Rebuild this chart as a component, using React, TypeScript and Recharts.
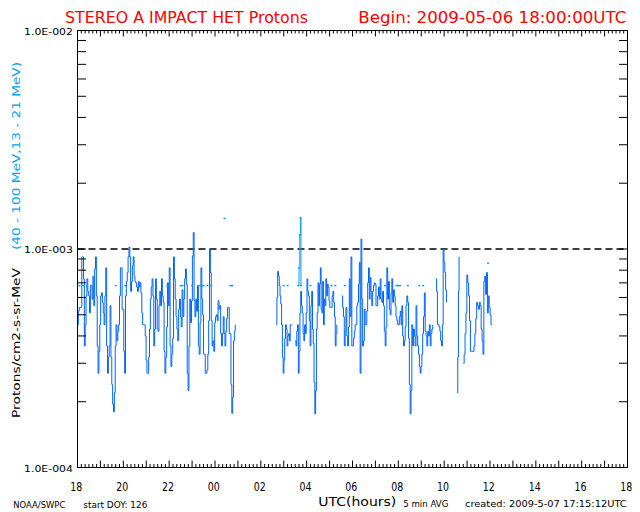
import React from 'react';
import { ComposedChart, Line, XAxis, YAxis, ReferenceLine } from 'recharts';

const TITLE = 'STEREO A IMPACT HET Protons';
const BEGIN = 'Begin: 2009-05-06 18:00:00UTC';
const Y_LABEL_UNITS = 'Protons/cm2-s-sr-MeV';
const Y_LABEL_BANDS = '(40 - 100 MeV,13 - 21 MeV)';
const FOOT_SOURCE = 'NOAA/SWPC';
const FOOT_DOY = 'start DOY: 126';
const X_TITLE = 'UTC(hours)';
const FOOT_AVG = '5 min AVG';
const FOOT_CREATED = 'created: 2009-5-07 17:15:12UTC';

// x axis: minutes after 2009-05-06 18:00 UTC
const X_DOMAIN = [0, 1440];
const X_LABELS = ['18', '20', '22', '00', '02', '04', '06', '08', '10', '12', '14', '16', '18'];
const X_LABEL_EVERY = 120;
const X_MAJOR_EVERY = 60;
const X_MINOR_EVERY = 10;

const Y_DOMAIN = [1e-4, 1e-2];
const Y_TICKS = [
  1e-4, 2e-4, 3e-4, 4e-4, 5e-4, 6e-4, 7e-4, 8e-4, 9e-4,
  1e-3, 2e-3, 3e-3, 4e-3, 5e-3, 6e-3, 7e-3, 8e-3, 9e-3, 1e-2,
];
const Y_MAJORS = [1e-4, 1e-3, 1e-2];
const Y_MAJOR_LABELS = ['1.0E-004', '1.0E-003', '1.0E-002'];
const THRESHOLD = 1e-3;

// 13 - 21 MeV channel, segment by segment
const LO_SEG1 = [
  4.5e-4, 5.2e-4, 5.4e-4, 5.4e-4, 5.4e-4, 9.2e-4, 9.2e-4, 7.3e-4, 3.6e-4, 4.5e-4,
  6.1e-4, 7.3e-4, 6.4e-4, 6.1e-4, 5.1e-4, 6.8e-4, 6.8e-4, 5.9e-4, 7.5e-4, 5.5e-4,
  8.1e-4, 9.2e-4, 6.1e-4, 3.6e-4, 2.7e-4, 3.4e-4, 4.5e-4, 6.1e-4, 6.3e-4, 5.7e-4,
  5.1e-4, 4.5e-4, 6.1e-4, 8.2e-4, 3.6e-4, 2.7e-4, 3.2e-4, 3.6e-4, 5.5e-4, 3.2e-4,
  2.4e-4, 1.95e-4, 1.8e-4, 2.2e-4, 3.6e-4, 4.5e-4, 3.8e-4, 4.2e-4, 4.5e-4, 6.1e-4,
  8.2e-4, 8.2e-4, 5.3e-4, 5.3e-4, 3.4e-4, 2.7e-4, 6.1e-4, 7.1e-4, 7.8e-4, 9.2e-4,
  1.02e-3, 9.2e-4, 6.4e-4, 7.1e-4, 8.4e-4, 9.2e-4, 7.5e-4, 7.1e-4, 7.0e-4, 6.7e-4,
  6.4e-4, 7.1e-4, 6.7e-4, 7.0e-4, 6.3e-4, 5.1e-4, 4.5e-4, 4.5e-4, 4.5e-4, 4.0e-4,
  3.1e-4, 2.7e-4, 2.7e-4, 3.2e-4, 4.3e-4, 5.9e-4, 6.7e-4, 7.3e-4, 6.1e-4, 3.6e-4,
  4.3e-4, 7.3e-4, 5.9e-4, 4.3e-4, 4.2e-4, 5.5e-4, 6.4e-4, 5.5e-4, 7.3e-4, 6.1e-4,
  5.7e-4, 3.4e-4, 2.7e-4, 3.2e-4, 4.4e-4, 7.0e-4, 5.5e-4, 8.2e-4, 3.6e-4, 2.9e-4,
  3.3e-4, 3.9e-4, 9.2e-4, 7.3e-4, 5.9e-4, 4.9e-4, 4.3e-4, 3.8e-4, 5.3e-4, 5.9e-4,
  4.9e-4, 4.4e-4, 6.5e-4, 4.9e-4, 5.9e-4, 7.3e-4, 8.1e-4, 6.9e-4, 2.7e-4, 2.25e-4,
  3.6e-4, 5.9e-4, 4.6e-4, 5.8e-4, 9.3e-4, 1.19e-3, 5.8e-4, 4.9e-4, 5.9e-4, 5.2e-4,
  6.8e-4, 3.6e-4, 3.3e-4, 4.6e-4, 8.2e-4, 5.9e-4, 5.0e-4, 3.3e-4, 3.3e-4, 2.7e-4,
  2.7e-4, 2.8e-4, 3.3e-4, 4.7e-4, 1.0e-3, 7.8e-4, 4.7e-4, 3.6e-4, 3.8e-4, 3.4e-4,
  4.6e-4, 4.9e-4, 5.0e-4, 4.7e-4, 5.8e-4, 5.3e-4, 5.5e-4, 4.1e-4, 3.6e-4, 4.1e-4,
  4.9e-4, 4.1e-4, 3.6e-4, 4.2e-4, 4.8e-4, 5.4e-4, 5.4e-4, 4.1e-4, 4.1e-4, 2.4e-4,
  1.77e-4, 2.1e-4, 3.8e-4, 4.2e-4, 4.5e-4,
];
const LO_SEG2 = [
  4.5e-4, 6.0e-4, 7.9e-4, 7.5e-4, 6.8e-4, 6.1e-4, 5.6e-4, 4.5e-4, 3.2e-4, 2.7e-4,
  3.1e-4, 3.9e-4, 4.5e-4, 4.3e-4, 3.6e-4, 4.0e-4, 4.1e-4, 3.8e-4, 4.5e-4, 4.5e-4, 4.5e-4,
];
const LO_SEG3 = [
  3.8e-4, 3.6e-4, 4.2e-4, 4.5e-4, 2.7e-4, 3.4e-4, 5.1e-4, 6.4e-4, 5.5e-4, 5.1e-4,
  4.1e-4, 3.8e-4, 4.5e-4, 4.1e-4, 5.1e-4, 7.3e-4, 6.4e-4, 6.1e-4, 4.7e-4, 3.6e-4,
  5.5e-4, 6.4e-4, 4.3e-4, 3.7e-4, 2.45e-4, 1.76e-4, 2.25e-4, 4.3e-4, 5.1e-4, 7.0e-4,
  5.5e-4, 6.9e-4, 8.2e-4, 5.3e-4, 5.1e-4, 7.1e-4, 4.5e-4, 5.9e-4, 5.5e-4, 7.3e-4,
  6.1e-4, 6.9e-4, 6.7e-4, 5.8e-4, 5.4e-4, 5.4e-4, 5.4e-4, 6.1e-4, 6.4e-4, 5.7e-4,
  4.9e-4, 3.6e-4, 4.1e-4, 4.5e-4,
];
const LO_SEG4 = [
  6.1e-4, 5.4e-4, 4.9e-4, 3.6e-4, 4.2e-4, 5.4e-4, 4.0e-4, 3.6e-4, 4.4e-4, 7.3e-4,
  4.9e-4, 9.2e-4, 3.6e-4, 3.6e-4, 3.9e-4, 4.2e-4, 4.5e-4, 4.5e-4, 5.5e-4, 5.7e-4,
  6.9e-4, 8.7e-4, 2.7e-4, 1.11e-3, 5.9e-4, 3.6e-4, 3.8e-4, 5.3e-4, 4.5e-4, 4.5e-4,
  5.2e-4, 7.0e-4, 8.2e-4, 5.9e-4, 7.4e-4, 6.4e-4, 5.5e-4, 6.4e-4, 6.8e-4, 7.0e-4,
  6.9e-4, 5.5e-4, 5.5e-4, 6.1e-4, 6.7e-4, 5.9e-4, 7.3e-4, 5.9e-4, 5.7e-4, 6.4e-4,
  5.5e-4, 4.2e-4, 3.6e-4, 4.4e-4, 8.2e-4, 5.9e-4, 7.1e-4, 5.3e-4, 5.0e-4, 6.3e-4,
  7.3e-4, 5.7e-4, 6.5e-4, 6.1e-4, 5.5e-4, 4.9e-4, 4.7e-4, 4.5e-4, 4.5e-4, 4.9e-4,
  5.2e-4, 4.5e-4, 5.5e-4, 4.0e-4, 3.6e-4, 3.8e-4, 4.4e-4, 5.5e-4, 6.1e-4, 5.7e-4,
  3.9e-4, 2.4e-4, 1.76e-4, 2.25e-4, 4.5e-4, 3.6e-4, 4.3e-4, 4.0e-4, 3.6e-4, 5.5e-4,
  4.0e-4, 3.6e-4, 3.3e-4, 2.9e-4, 2.7e-4, 2.9e-4, 3.3e-4, 4.1e-4, 4.9e-4, 6.3e-4,
  4.2e-4, 4.0e-4, 3.6e-4, 4.2e-4, 4.0e-4, 4.5e-4, 3.6e-4, 4.1e-4, 4.3e-4, 4.5e-4,
];
const LO_SEG5 = [
  7.3e-4, 6.4e-4, 4.5e-4, 4.5e-4, 4.4e-4, 4.2e-4, 3.8e-4, 3.6e-4, 4.5e-4, 1.0e-3,
  8.7e-4, 7.8e-4, 6.5e-4, 5.7e-4,
];
const LO_SEG6 = [2.2e-4, 3.2e-4, 6.4e-4, 9.2e-4];
const LO_SEG7 = [
  3.0e-4, 3.3e-4, 4.1e-4, 5.1e-4, 7.6e-4, 7.0e-4, 6.1e-4, 4.7e-4, 3.4e-4, 3.4e-4,
  3.4e-4, 3.4e-4, 3.6e-4, 4.1e-4, 4.8e-4, 5.7e-4, 5.5e-4, 5.3e-4, 5.7e-4, 5.5e-4,
  4.3e-4, 3.8e-4, 3.3e-4, 7.1e-4, 7.5e-4, 6.2e-4, 7.8e-4, 5.1e-4, 6.1e-4, 5.4e-4,
  5.0e-4, 4.5e-4, 4.5e-4,
];
// first and last minute of each run of 13 - 21 MeV data
const LO_SEG_STARTS = [0, 520, 570, 692, 938, 994, 1010];
const LO_SEG_ENDS = [413, 561, 679, 930, 966, 999, 1085];
const LO_SEGS = [LO_SEG1, LO_SEG2, LO_SEG3, LO_SEG4, LO_SEG5, LO_SEG6, LO_SEG7];

// 40 - 100 MeV channel (mostly isolated 5-minute points)
const HI_TIMES = [
  5, 15, 25, 40, 100, 125, 205, 235, 270, 275, 300, 320, 325, 330, 340, 350, 385, 400, 405,
  540, 550, 578, 580, 582, 584, 585, 610, 665, 675, 700, 805, 835, 840, 845, 865, 895, 905, 1075,
];
const HI_VALUES = [
  6.8e-4, 6.8e-4, 6.8e-4, 6.8e-4, 6.8e-4, 6.8e-4, 6.8e-4, 6.8e-4, 6.8e-4, 6.8e-4, 6.8e-4,
  6.8e-4, 6.8e-4, 6.8e-4, 6.8e-4, 6.8e-4, 1.38e-3, 6.8e-4, 6.8e-4,
  6.8e-4, 6.8e-4, 6.8e-4, 8.2e-4, 1.16e-3, 1.39e-3, 6.8e-4, 6.8e-4, 6.8e-4, 6.8e-4, 6.8e-4,
  6.8e-4, 6.8e-4, 6.8e-4, 6.8e-4, 6.8e-4, 6.8e-4, 6.8e-4, 8.6e-4,
];

const LO_COLOR = '#0064ff';
const HI_COLOR = '#00a0ff';
const FONT = '"DejaVu Sans", sans-serif';

const loData: { t: number; v: number | null }[] = [];
LO_SEGS.forEach((vals, s) => {
  const a = LO_SEG_STARTS[s];
  const b = LO_SEG_ENDS[s];
  vals.forEach((v, i) => {
    loData.push({ t: a + (i * (b - a)) / (vals.length - 1), v });
  });
  loData.push({ t: b + 0.5, v: null });
});

const hiData: { t: number; v: number | null }[] = [];
HI_TIMES.forEach((t, i) => {
  if (i > 0 && t - HI_TIMES[i - 1] > 5.5) hiData.push({ t: HI_TIMES[i - 1] + 0.5, v: null });
  hiData.push({ t, v: HI_VALUES[i] });
});

const X_TICKS: number[] = [];
for (let t = X_DOMAIN[0]; t <= X_DOMAIN[1]; t += X_MINOR_EVERY) X_TICKS.push(t);

const majorIndex = (v: number) => Y_MAJORS.findIndex((m) => Math.abs(m - v) < m * 1e-6);

const LeftTick = (props: any) => {
  const { x, y, payload } = props;
  const idx = majorIndex(payload.value);
  return (
    <g>
      <line x1={x} x2={x + 8.5} y1={y} y2={y} stroke="#000" strokeWidth={1} />
      {idx >= 0 && (
        <text x={x - 4.5} y={y + 4.3} textAnchor="end" fontSize={9.5} fontFamily={FONT} fill="#000"
          textLength={49} lengthAdjust="spacingAndGlyphs">
          {Y_MAJOR_LABELS[idx]}
        </text>
      )}
    </g>
  );
};

const RightTick = (props: any) => {
  const { x, y } = props;
  return <line x1={x} x2={x - 8.5} y1={y} y2={y} stroke="#000" strokeWidth={1} />;
};

const BottomTick = (props: any) => {
  const { x, y, payload } = props;
  const t = payload.value as number;
  const major = t % X_MAJOR_EVERY === 0;
  const labelled = t % X_LABEL_EVERY === 0;
  return (
    <g>
      <line x1={x} x2={x} y1={y} y2={y - (major ? 7 : 3.5)} stroke="#000" strokeWidth={1} />
      {labelled && (
        <text x={x - 1.2} y={y + 23.5} textAnchor="middle" fontSize={12.5} fontFamily={FONT} fill="#000"
          textLength={12} lengthAdjust="spacingAndGlyphs">
          {X_LABELS[t / X_LABEL_EVERY]}
        </text>
      )}
    </g>
  );
};

const TopTick = (props: any) => {
  const { x, y, payload } = props;
  const major = (payload.value as number) % X_MAJOR_EVERY === 0;
  return <line x1={x} x2={x} y1={y} y2={y + (major ? 6 : 3)} stroke="#000" strokeWidth={1} />;
};

const HiDot = (p: any) => {
  if (p.cx == null || p.cy == null || p.value == null) return <g key={`e${p.index}`} />;
  return <rect key={`d${p.index}`} x={p.cx - 1} y={p.cy - 0.75} width={2} height={1.5} fill={HI_COLOR} />;
};

export default function App() {
  return (
    <div style={{ position: 'absolute', left: 0, top: 0, width: 640, height: 512, background: '#fff' }}>
      <ComposedChart width={640} height={512} margin={{ top: 29.5, right: 11.5, bottom: 43.5, left: 76.5 }}>
        <XAxis xAxisId="b" orientation="bottom" type="number" dataKey="t" domain={X_DOMAIN} ticks={X_TICKS}
          interval={0} height={1} tickSize={0} tickMargin={0} tickLine={false} tick={<BottomTick />}
          axisLine={{ stroke: '#000', strokeWidth: 1 }} allowDataOverflow />
        <XAxis xAxisId="t" orientation="top" type="number" dataKey="t" domain={X_DOMAIN} ticks={X_TICKS}
          interval={0} height={1} tickSize={0} tickMargin={0} tickLine={false} tick={<TopTick />}
          axisLine={{ stroke: '#000', strokeWidth: 1 }} allowDataOverflow />
        <YAxis yAxisId="l" orientation="left" type="number" scale="log" domain={Y_DOMAIN} ticks={Y_TICKS}
          interval={0} width={1} tickSize={0} tickMargin={0} tickLine={false} tick={<LeftTick />}
          axisLine={{ stroke: '#000', strokeWidth: 1 }} allowDataOverflow />
        <YAxis yAxisId="r" orientation="right" type="number" scale="log" domain={Y_DOMAIN} ticks={Y_TICKS}
          interval={0} width={1} tickSize={0} tickMargin={0} tickLine={false} tick={<RightTick />}
          axisLine={{ stroke: '#000', strokeWidth: 1 }} allowDataOverflow />
        <ReferenceLine xAxisId="b" yAxisId="l" y={THRESHOLD} stroke="#000" strokeWidth={1.5} strokeDasharray="7 4" />
        <Line xAxisId="b" yAxisId="l" data={loData} dataKey="v" type="stepAfter" stroke={LO_COLOR}
          strokeWidth={1} dot={false} activeDot={false} connectNulls={false} isAnimationActive={false} />
        <Line xAxisId="b" yAxisId="l" data={hiData} dataKey="v" type="stepAfter" stroke={HI_COLOR}
          strokeWidth={1} dot={HiDot} activeDot={false} connectNulls={false} isAnimationActive={false} />
      </ComposedChart>
      <svg width={640} height={512} style={{ position: 'absolute', left: 0, top: 0, pointerEvents: 'none' }}>
        <text x={65} y={22.7} fill="#ff0000" fontSize={15.5} fontFamily={FONT} textLength={243}
          lengthAdjust="spacingAndGlyphs">{TITLE}</text>
        <text x={358.3} y={22.7} fill="#ff0000" fontSize={15.5} fontFamily={FONT} textLength={268}
          lengthAdjust="spacingAndGlyphs">{BEGIN}</text>
        <text x={20} y={343} transform="rotate(-90 20 343)" textAnchor="middle" fill="#000" fontSize={10.5}
          fontFamily={FONT} textLength={150} lengthAdjust="spacingAndGlyphs">{Y_LABEL_UNITS}</text>
        <text x={19.8} y={156} transform="rotate(-90 19.8 156)" textAnchor="middle" fill={HI_COLOR} fontSize={10.5}
          fontFamily={FONT} textLength={188} lengthAdjust="spacingAndGlyphs">{Y_LABEL_BANDS}</text>
        <text x={13.3} y={507.7} fill="#000" fontSize={9.5} fontFamily={FONT} textLength={52}
          lengthAdjust="spacingAndGlyphs">{FOOT_SOURCE}</text>
        <text x={83.3} y={507.5} fill="#000" fontSize={9} fontFamily={FONT} textLength={64}
          lengthAdjust="spacingAndGlyphs">{FOOT_DOY}</text>
        <text x={318.3} y={506} fill="#000" fontSize={12} fontFamily={FONT} textLength={78}
          lengthAdjust="spacingAndGlyphs">{X_TITLE}</text>
        <text x={403.3} y={506.7} fill="#000" fontSize={9.5} fontFamily={FONT} textLength={45}
          lengthAdjust="spacingAndGlyphs">{FOOT_AVG}</text>
        <text x={465} y={506.7} fill="#000" fontSize={9} fontFamily={FONT} textLength={161.7}
          lengthAdjust="spacingAndGlyphs">{FOOT_CREATED}</text>
      </svg>
    </div>
  );
}
